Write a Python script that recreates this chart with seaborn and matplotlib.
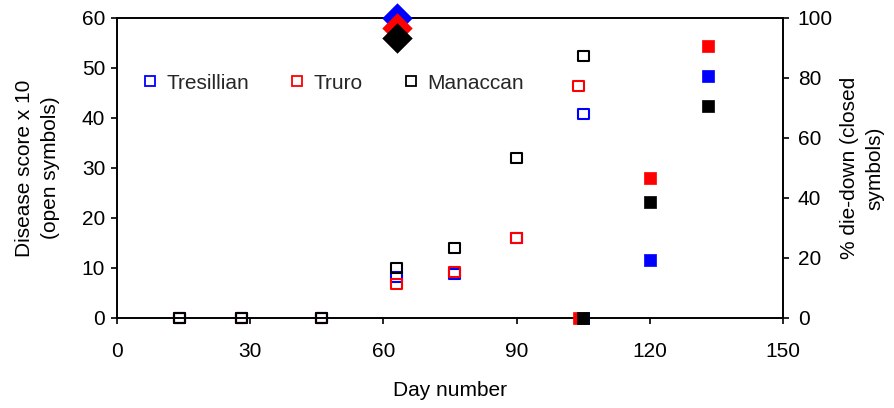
import matplotlib
matplotlib.use("Agg")
import matplotlib.pyplot as plt
from matplotlib.lines import Line2D
import seaborn as sns
import pandas as pd

sns.set_theme(style="white")
plt.rcParams["font.family"] = ["Liberation Sans", "DejaVu Sans"]

sites = ["Tresillian", "Truro", "Manaccan"]
colors = ["#0000ff", "#ff0000", "#000000"]

# Disease score x 10 (open symbols, left axis)
score_days = {
    "Tresillian": [14, 28, 46, 63, 76, 90, 105],
    "Truro": [14, 28, 46, 63, 76, 90, 104],
    "Manaccan": [14, 28, 46, 63, 76, 90, 105],
}
score_vals = {
    "Tresillian": [0, 0, 0, 8.2, 8.8, 16, 40.8],
    "Truro": [0, 0, 0, 6.8, 9.2, 16, 46.4],
    "Manaccan": [0, 0, 0, 10, 14, 32, 52.4],
}

# % die-down (closed symbols, right axis)
die_days = {
    "Tresillian": [105, 120, 133],
    "Truro": [104, 120, 133],
    "Manaccan": [105, 120, 133],
}
die_vals = {
    "Tresillian": [0, 19.3, 80.7],
    "Truro": [0, 46.7, 90.7],
    "Manaccan": [0, 38.7, 70.7],
}

# Diamond markers on the left axis
diamond_day = [63, 63, 63]
diamond_vals = [60, 58, 56]

FS = 15

fig = plt.figure(figsize=(8.94, 4.08), dpi=100)
ax = fig.add_axes([0.1309, 0.2206, 0.745, 0.7353])
ax2 = ax.twinx()

for site, col in zip(sites, colors):
    df = pd.DataFrame({"day": score_days[site], "score": score_vals[site]})
    sns.scatterplot(data=df, x="day", y="score", ax=ax, marker="s", s=60,
                    facecolor="none", edgecolor=col, linewidth=1.5,
                    clip_on=False, zorder=3)

for site, col in zip(sites, colors):
    df = pd.DataFrame({"day": die_days[site], "pct": die_vals[site]})
    sns.scatterplot(data=df, x="day", y="pct", ax=ax2, marker="s", s=78,
                    color=col, edgecolor=col, linewidth=0.5,
                    clip_on=False, zorder=3)

for d, v, col in zip(diamond_day, diamond_vals, colors):
    sns.scatterplot(x=[d], y=[v], ax=ax2, marker="D", s=240,
                    color=col, edgecolor=col, linewidth=0,
                    clip_on=False, zorder=4,
                    transform=ax.transData)

ax.set_xlim(0, 150)
ax.set_ylim(0, 60)
ax2.set_ylim(0, 100)
ax.set_xticks(range(0, 151, 30))
ax.set_yticks(range(0, 61, 10))
ax2.set_yticks(range(0, 101, 20))

for a in (ax, ax2):
    for sp in a.spines.values():
        sp.set_color("black")
        sp.set_linewidth(1.2)
    a.tick_params(direction="out", length=4.5, width=1.2, color="black",
                  labelsize=FS, labelcolor="black")
ax.tick_params(axis="x", bottom=True, top=False, pad=13)
ax.tick_params(axis="y", left=True, right=False, pad=4)
ax2.tick_params(axis="y", left=False, right=True, pad=6)

ax.set_xlabel("Day number", fontsize=FS, color="black", labelpad=14)
ax.set_ylabel("Disease score x 10\n(open symbols)", fontsize=FS,
              color="black", multialignment="center", linespacing=1.45)
ax.yaxis.set_label_coords(-0.0856, 0.5)
ax2.set_ylabel("% die-down (closed\nsymbols)", fontsize=FS, color="black",
               multialignment="center", linespacing=1.45)
ax2.yaxis.set_label_coords(1.0856, 0.5)
ax.grid(False)
ax2.grid(False)

handles = [Line2D([], [], linestyle="none", marker="s", markersize=7,
                  markerfacecolor="none", markeredgecolor=c,
                  markeredgewidth=1.3) for c in colors]
ax.legend(handles, sites, ncol=3, frameon=False, loc="center left",
          bbox_to_anchor=(0.038, 0.783), borderaxespad=0, borderpad=0,
          handlelength=0.75, handletextpad=0.4, columnspacing=1.95,
          fontsize=FS)

fig.savefig("out.png", dpi=100)
